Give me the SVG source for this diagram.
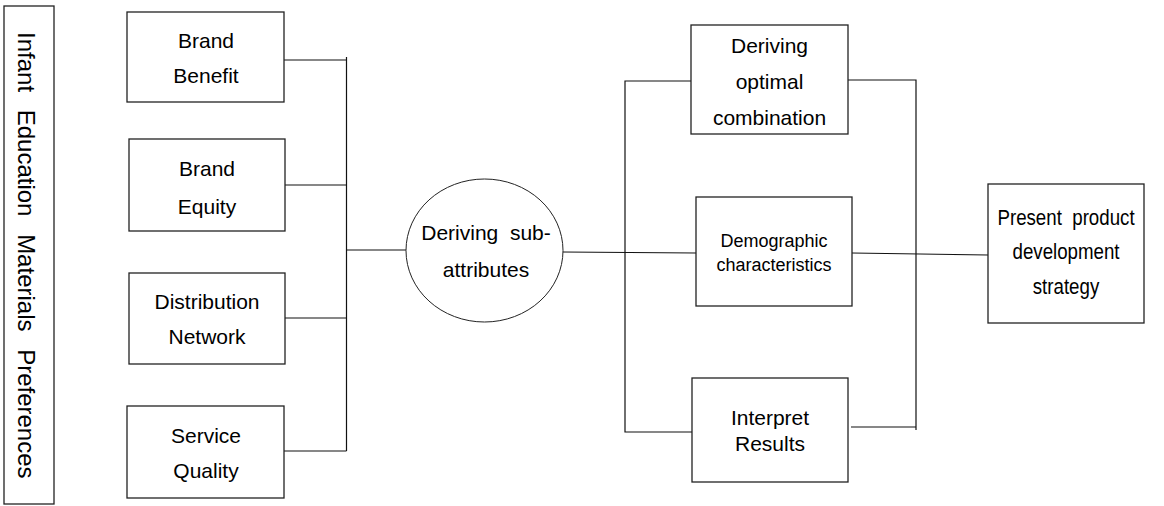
<svg xmlns="http://www.w3.org/2000/svg" width="1164" height="506" viewBox="0 0 1164 506">
<style>
.box{fill:#fff;stroke:#222;stroke-width:1.3}
.t{font-family:"Liberation Sans",Arial,sans-serif;font-size:21px;fill:#000;text-anchor:middle}
.s{font-size:18px}
.c line,.c polyline{stroke:#111;stroke-width:1.2;fill:none}
</style>
<rect width="1164" height="506" fill="#fff"/>
<g id="title">
<rect class="box" x="4" y="6" width="50" height="498"/>
<text class="t" style="text-anchor:start;font-size:24px;word-spacing:11px" transform="translate(18,32) rotate(90)">Infant Education Materials Preferences</text>
</g>
<g class="c" id="connectors">
<line x1="346.5" y1="57" x2="346.5" y2="451"/>
<line x1="284" y1="60" x2="346.5" y2="60"/>
<line x1="285" y1="185" x2="346.5" y2="185"/>
<line x1="285" y1="318" x2="346.5" y2="318"/>
<line x1="284" y1="451" x2="346.5" y2="451"/>
<line x1="346.5" y1="250" x2="407" y2="250"/>
<line x1="563" y1="252" x2="696" y2="253"/>
<polyline points="691,81 625,81 625,432 692,432"/>
<polyline points="848,80 916,80 916,430"/>
<line x1="851" y1="427" x2="916" y2="427"/>
<line x1="852" y1="253" x2="988" y2="255"/>
</g>
<g id="brand-benefit">
<rect class="box" x="127" y="12" width="157" height="90"/>
<text class="t" x="206" y="48">Brand</text>
<text class="t" x="206" y="83">Benefit</text>
</g>
<g id="brand-equity">
<rect class="box" x="129" y="139" width="156" height="92"/>
<text class="t" x="207" y="176">Brand</text>
<text class="t" x="207" y="214">Equity</text>
</g>
<g id="distribution-network">
<rect class="box" x="129" y="273" width="156" height="91"/>
<text class="t" x="207" y="309">Distribution</text>
<text class="t" x="207" y="344">Network</text>
</g>
<g id="service-quality">
<rect class="box" x="127" y="406" width="157" height="92"/>
<text class="t" x="206" y="443">Service</text>
<text class="t" x="206" y="478">Quality</text>
</g>
<g id="deriving-sub-attributes">
<ellipse class="box" cx="484.5" cy="250.5" rx="78.5" ry="71.5" style="stroke-width:1"/>
<text class="t" x="486" y="240" xml:space="preserve">Deriving  sub-</text>
<text class="t" x="486" y="277">attributes</text>
</g>
<g id="deriving-optimal-combination">
<rect class="box" x="691" y="25" width="157" height="109"/>
<text class="t" x="769.5" y="53">Deriving</text>
<text class="t" x="769.5" y="89">optimal</text>
<text class="t" x="769.5" y="125">combination</text>
</g>
<g id="demographic-characteristics">
<rect class="box" x="696" y="197" width="156" height="109"/>
<text class="t s" x="774" y="247">Demographic</text>
<text class="t s" x="774" y="271">characteristics</text>
</g>
<g id="interpret-results">
<rect class="box" x="692" y="378" width="156" height="104"/>
<text class="t" x="770" y="425">Interpret</text>
<text class="t" x="770" y="451">Results</text>
</g>
<g id="present-strategy">
<rect class="box" x="988" y="184" width="156" height="139"/>
<g transform="translate(1066,0) scale(0.85,1)">
<text class="t" style="font-size:22px" x="0" y="225" xml:space="preserve">Present  product</text>
<text class="t" style="font-size:22px" x="0" y="259">development</text>
<text class="t" style="font-size:22px" x="0" y="294">strategy</text>
</g>
</g>
</svg>
